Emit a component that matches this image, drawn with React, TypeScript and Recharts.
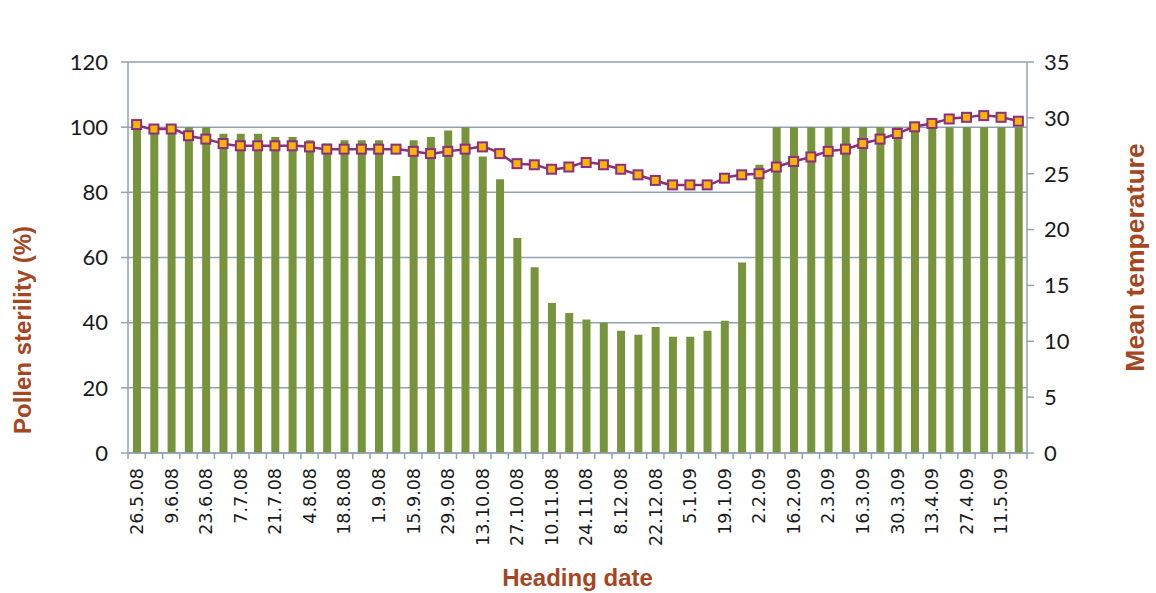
import { ComposedChart, Bar, Line, XAxis, YAxis, CartesianGrid } from 'recharts';

// weekly heading dates, May 2008 - May 2009
const dates = [
  '26.5.08', '2.6.08', '9.6.08', '16.6.08', '23.6.08', '30.6.08', '7.7.08', '14.7.08',
  '21.7.08', '28.7.08', '4.8.08', '11.8.08', '18.8.08', '25.8.08', '1.9.08', '8.9.08',
  '15.9.08', '22.9.08', '29.9.08', '6.10.08', '13.10.08', '20.10.08', '27.10.08', '3.11.08',
  '10.11.08', '17.11.08', '24.11.08', '1.12.08', '8.12.08', '15.12.08', '22.12.08', '29.12.08',
  '5.1.09', '12.1.09', '19.1.09', '26.1.09', '2.2.09', '9.2.09', '16.2.09', '23.2.09',
  '2.3.09', '9.3.09', '16.3.09', '23.3.09', '30.3.09', '6.4.09', '13.4.09', '20.4.09',
  '27.4.09', '4.5.09', '11.5.09', '18.5.09',
];

const sterility = [
  100, 100, 100, 100, 100, 98, 98, 98, 97, 97, 96, 95, 96, 96, 96, 85, 96, 97,
  99, 100, 91, 84, 66, 57, 46, 43, 41, 40, 37.5, 36.3, 38.7, 35.7, 35.7, 37.5, 40.6, 58.5, 88.5,
  100, 100, 100, 100, 100, 100, 100, 100, 100, 100, 100, 100, 100, 100, 100,
];

const temperature = [
  29.4, 29.0, 29.0, 28.4, 28.1, 27.7, 27.5, 27.5, 27.5, 27.5, 27.4, 27.2, 27.2,
  27.2, 27.2, 27.2, 27.0, 26.8, 27.0, 27.2, 27.4, 26.8, 25.9, 25.8, 25.4, 25.6,
  26.0, 25.8, 25.4, 24.9, 24.4, 24.0, 24.0, 24.0, 24.6, 24.9, 25.0, 25.6, 26.1,
  26.5, 27.0, 27.2, 27.7, 28.1, 28.6, 29.2, 29.5, 29.9, 30.05, 30.2, 30.05, 29.7,
];

const sterilityTicks = [0, 20, 40, 60, 80, 100, 120];
const temperatureTicks = [0, 5, 10, 15, 20, 25, 30, 35];

const data = dates.map((date, i) => ({
  date,
  sterility: sterility[i],
  temperature: temperature[i],
}));

const W = 1156;
const H = 593;
const margin = { top: 62, right: 69, bottom: 40, left: 68 };
const axisW = 60;
const band = (W - margin.left - margin.right - 2 * axisW) / dates.length;

const gridColor = '#8fa3b3';
const titleColor = '#a5461f';
const tickFont = 'Lato, "Open Sans", sans-serif';
const dateFont = '"DejaVu Sans", sans-serif';
const titleFont = '"Liberation Sans", Arial, sans-serif';

function DateTick(props: any) {
  const { x, y, index, payload } = props;
  return (
    <g transform={`translate(${x},${y})`}>
      <line x1={-band / 2} y1={0} x2={-band / 2} y2={6} stroke={gridColor} strokeWidth={1.5} />
      {index === dates.length - 1 && (
        <line x1={band / 2} y1={0} x2={band / 2} y2={6} stroke={gridColor} strokeWidth={1.5} />
      )}
      {index % 2 === 0 && (
        <text
          transform="rotate(-90)"
          x={-15}
          y={0}
          dy="0.36em"
          textAnchor="end"
          fontSize={17.5}
          fontFamily={dateFont}
          fill="#1a1a1a"
        >
          {payload.value}
        </text>
      )}
    </g>
  );
}

function SquareDot(props: any) {
  const { cx, cy } = props;
  if (cx == null || cy == null) return null;
  return (
    <rect x={cx - 4.5} y={cy - 4.5} width={9} height={9} fill="#f7b500" stroke="#8b2f7f" strokeWidth={2} />
  );
}

const titleStyle = {
  fontFamily: titleFont,
  fontWeight: 700,
  fontSize: 24,
  fill: titleColor,
};

export default function App() {
  return (
    <div style={{ position: 'absolute', left: 0, top: 0, width: W, height: H, background: '#fff' }}>
      <ComposedChart width={W} height={H} data={data} margin={margin}>
        <CartesianGrid yAxisId="left" vertical={false} stroke={gridColor} strokeWidth={1.5} />
        <XAxis
          dataKey="date"
          interval={0}
          height={100}
          tickLine={false}
          tickSize={0}
          tickMargin={0}
          axisLine={{ stroke: gridColor, strokeWidth: 1.5 }}
          tick={<DateTick />}
          label={{
            content: (p: any) => (
              <text
                x={p.viewBox.x + p.viewBox.width / 2}
                y={p.viewBox.y + 133}
                textAnchor="middle"
                style={titleStyle}
              >
                Heading date
              </text>
            ),
          }}
        />
        <YAxis
          yAxisId="left"
          width={axisW}
          domain={[0, 120]}
          ticks={sterilityTicks}
          tickSize={7}
          tickMargin={13}
          axisLine={{ stroke: gridColor, strokeWidth: 1.5 }}
          tickLine={{ stroke: gridColor, strokeWidth: 1.5 }}
          tick={{ fontSize: 22, fontFamily: tickFont, fill: '#1a1a1a' }}
          label={{
            content: (p: any) => {
              const cx = p.viewBox.x - 45;
              const cy = p.viewBox.y + 268;
              return (
                <text x={cx} y={cy} transform={`rotate(-90, ${cx}, ${cy})`} textAnchor="middle" dy="0.35em" style={titleStyle}>
                  Pollen sterility (%)
                </text>
              );
            },
          }}
        />
        <YAxis
          yAxisId="right"
          orientation="right"
          width={axisW}
          domain={[0, 35]}
          ticks={temperatureTicks}
          tickSize={7}
          tickMargin={10}
          axisLine={{ stroke: gridColor, strokeWidth: 1.5 }}
          tickLine={{ stroke: gridColor, strokeWidth: 1.5 }}
          tick={{ fontSize: 22, fontFamily: tickFont, fill: '#1a1a1a' }}
          label={{
            content: (p: any) => {
              const cx = p.viewBox.x + 108;
              const cy = p.viewBox.y + p.viewBox.height / 2;
              return (
                <text x={cx} y={cy} transform={`rotate(-90, ${cx}, ${cy})`} textAnchor="middle" dy="0.35em" style={{ ...titleStyle, fontSize: 26.5 }}>
                  Mean temperature
                </text>
              );
            },
          }}
        />
        <Bar yAxisId="left" dataKey="sterility" fill="#77933c" barSize={8} isAnimationActive={false} />
        <Line
          yAxisId="right"
          type="monotone"
          dataKey="temperature"
          stroke="#8b2f7f"
          strokeWidth={2.5}
          dot={<SquareDot />}
          activeDot={false}
          isAnimationActive={false}
        />
      </ComposedChart>
    </div>
  );
}
